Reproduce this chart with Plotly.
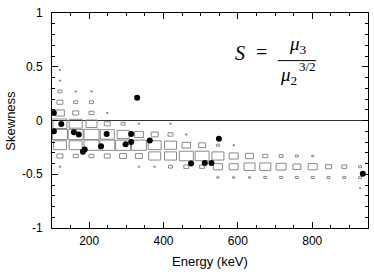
import plotly.graph_objects as go
import math

# ---------------- data ----------------
energy_centers = [121.25, 163.75, 206.25, 248.75, 291.25, 333.75, 376.25, 418.75,
                  461.25, 503.75, 546.25, 588.75, 631.25, 673.75, 716.25, 758.75,
                  801.25, 843.75, 886.25, 928.75]
energy_bin_width = 42.5
skew_bin_height = 0.1

skew_row_centers = [0.47, 0.37, 0.27, 0.17, 0.07, -0.03, -0.13, -0.23, -0.33, -0.43, -0.53, -0.63]

row_p047 = [1, 0, 0, 0, 0, 0, 0, 0, 0, 0, 0, 0, 0, 0, 0, 0, 0, 0, 0, 0]
row_p037 = [1, 0, 0, 0, 0, 0, 0, 0, 0, 0, 0, 0, 0, 0, 0, 0, 0, 0, 0, 0]
row_p027 = [7, 1, 1, 0, 0, 0, 0, 0, 0, 0, 0, 0, 0, 0, 0, 0, 0, 0, 0, 0]
row_p017 = [16, 7, 7, 0, 0, 0, 0, 0, 0, 0, 0, 0, 0, 0, 0, 0, 0, 0, 0, 0]
row_p007 = [36, 16, 11, 1, 0, 0, 0, 0, 0, 0, 0, 0, 0, 0, 0, 0, 0, 0, 0, 0]
row_m003 = [87, 75, 54, 16, 7, 1, 0, 1, 0, 0, 0, 0, 0, 0, 0, 0, 0, 0, 0, 0]
row_m013 = [100, 100, 100, 87, 64, 36, 22, 11, 1, 0, 0, 0, 0, 0, 0, 0, 0, 0, 0, 0]
row_m023 = [75, 75, 100, 100, 100, 100, 75, 64, 32, 22, 4, 1, 0, 0, 0, 0, 0, 0, 0, 0]
row_m033 = [16, 11, 11, 16, 22, 22, 64, 64, 87, 87, 64, 36, 28, 11, 7, 4, 2, 0, 0, 0]
row_m043 = [1, 0, 0, 0, 0, 1, 1, 7, 11, 11, 36, 36, 54, 54, 44, 28, 36, 16, 11, 4]
row_m053 = [0, 0, 0, 0, 0, 0, 0, 0, 0, 0, 2, 2, 2, 4, 4, 4, 4, 4, 4, 4]
row_m063 = [0, 0, 0, 0, 0, 0, 0, 0, 0, 0, 0, 0, 0, 0, 0, 0, 0, 0, 0, 1]

rows = [row_p047, row_p037, row_p027, row_p017, row_p007, row_m003,
        row_m013, row_m023, row_m033, row_m043, row_m053, row_m063]

point_energy = [105, 125, 105, 159, 172, 247, 313, 232, 298, 313, 363, 188, 183,
                329, 549, 474, 511, 529, 936]
point_skew = [0.07, -0.033, -0.10, -0.11, -0.13, -0.126, -0.126, -0.24, -0.22, -0.20,
              -0.185, -0.27, -0.29, 0.212, -0.17, -0.40, -0.395, -0.395, -0.495]

x_tick_vals = [200, 400, 600, 800]
x_tick_text = ["200", "400", "600", "800"]
y_tick_vals = [-1, -0.5, 0, 0.5, 1]
y_tick_text = ["-1", "-0.5", "0", "0.5", "1"]

# ---------------- boxes ----------------
cmax = max(max(r) for r in rows)
bx, by = [], []
for yc, row in zip(skew_row_centers, rows):
    for xc, c in zip(energy_centers, row):
        if c <= 0:
            continue
        f = 0.95 * math.sqrt(c / cmax)
        hw = f * energy_bin_width / 2
        hh = f * skew_bin_height / 2
        bx += [xc - hw, xc + hw, xc + hw, xc - hw, xc - hw, None]
        by += [yc - hh, yc - hh, yc + hh, yc + hh, yc - hh, None]

fig = go.Figure()
fig.add_trace(go.Scatter(x=bx, y=by, mode="lines",
                         line=dict(color="#8a8a8a", width=1),
                         hoverinfo="skip", showlegend=False))
fig.add_trace(go.Scatter(x=point_energy, y=point_skew, mode="markers",
                         marker=dict(color="black", size=6), cliponaxis=False,
                         showlegend=False))

sans = "Liberation Sans, Arial, sans-serif"
axis_font = dict(family=sans, size=12, color="black")
title_font = dict(family=sans, size=13, color="black")

fig.update_xaxes(range=[100, 950], showgrid=False, zeroline=False, automargin=False,
                 showline=True, linecolor="black", linewidth=1, mirror="allticks",
                 ticks="inside", ticklen=6, tickcolor="black",
                 tickvals=x_tick_vals, ticktext=x_tick_text, tickfont=axis_font,
                 ticklabelstandoff=2,
                 minor=dict(ticks="inside", ticklen=3, dtick=50, tickcolor="black", showgrid=False))
fig.update_yaxes(range=[-1, 1], showgrid=False, automargin=False,
                 zeroline=True, zerolinecolor="#333333", zerolinewidth=1,
                 showline=True, linecolor="black", linewidth=1, mirror="allticks",
                 ticks="inside", ticklen=6, tickcolor="black",
                 tickvals=y_tick_vals, ticktext=y_tick_text, tickfont=axis_font,
                 ticklabelstandoff=6,
                 minor=dict(ticks="inside", ticklen=3, dtick=0.1, tickcolor="black", showgrid=False))

# axis titles as paper-positioned annotations
fig.add_annotation(x=(210 - 52) / 316, y=-(262 - 228.4) / 215.1, xref="paper", yref="paper",
                   text="Energy (keV)", showarrow=False, font=title_font,
                   xanchor="center", yanchor="middle")
fig.add_annotation(x=-(52 - 11) / 316, y=(228.4 - 121) / 215.1, xref="paper", yref="paper",
                   text="Skewness", showarrow=False, font=title_font, textangle=-90,
                   xanchor="center", yanchor="middle")

serif = "Liberation Serif, Times New Roman, serif"
ann = [
    dict(x=605, y=0.63, text="<i>S</i>", size=20),
    dict(x=663, y=0.635, text="=", size=20),
    dict(x=762, y=0.70, text="<i>μ</i><sub>3</sub>", size=19),
    dict(x=736, y=0.41, text="<i>μ</i><sub>2</sub>", size=19),
    dict(x=787, y=0.50, text="3/2", size=13),
]
for a in ann:
    fig.add_annotation(x=a["x"], y=a["y"], xref="x", yref="y", text=a["text"],
                       showarrow=False, font=dict(family=serif, size=a["size"], color="black"))
fig.add_shape(type="line", xref="x", yref="y", x0=707, x1=810, y0=0.557, y1=0.557,
              line=dict(color="black", width=1))

fig.update_layout(width=374, height=277, margin=dict(l=52, r=6, t=13, b=49),
                  plot_bgcolor="white", paper_bgcolor="white")

fig.write_html("out.html", config={"displayModeBar": False},
               post_script="document.body.style.margin='0';document.body.style.overflow='hidden';")
